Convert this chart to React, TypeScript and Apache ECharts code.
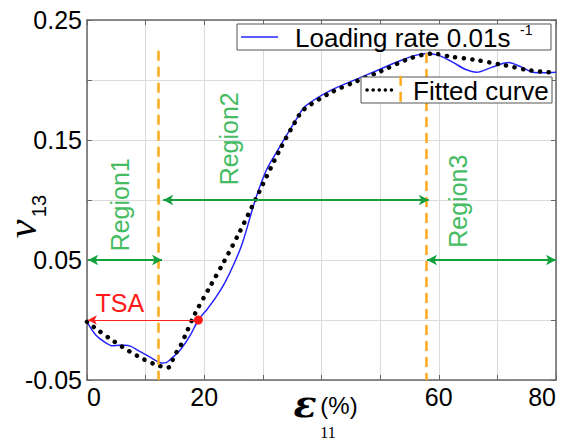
import React, { useEffect, useRef } from 'react';
import * as echarts from 'echarts';

// ---- data ----
const loadStrain = [0, 1.5, 3.2, 4.4, 5.5, 6.5, 7.5, 8.9, 10.6, 12.0, 12.7, 13.5, 14.2, 15.9, 17.6, 19.0, 20.5, 22.0, 23.5, 25.0, 26.5, 28.7, 30.6, 32.6, 35.8, 37.2, 41.4, 46.6, 50.0, 53.4, 56.0, 57.9, 60.0, 62.5, 64.5, 66.5, 69.0, 71.9, 74.0, 76.3, 78.0, 80.0];
const loadNu = [-0.0015, -0.0125, -0.019, -0.0215, -0.021, -0.021, -0.022, -0.026, -0.0305, -0.0345, -0.0358, -0.0355, -0.033, -0.025, -0.0128, 0.0, 0.009, 0.019, 0.031, 0.046, 0.064, 0.1, 0.125, 0.142, 0.168, 0.178, 0.191, 0.202, 0.209, 0.216, 0.2205, 0.222, 0.2205, 0.2145, 0.209, 0.2065, 0.2105, 0.2145, 0.211, 0.2062, 0.206, 0.2065];

const fitStrain = [0, 13.9, 14.4, 15.0, 15.9, 16.7, 18.4, 21.0, 23.3, 26.0, 28.7, 32.9, 35.5, 36.9, 41.4, 46.0, 50.0, 55.1, 59.0, 62.0, 65.9, 71.0, 75.6, 80.0];
const fitNu = [-0.0015, -0.0395, -0.0355, -0.029, -0.022, -0.0135, 0.005, 0.028, 0.048, 0.073, 0.1, 0.142, 0.165, 0.175, 0.189, 0.199, 0.207, 0.218, 0.222, 0.2195, 0.217, 0.2125, 0.208, 0.206];

const xTickLabels = ['0', '20', '60', '80'];
const yTickLabels = ['-0.05', '0.05', '0.15', '0.25'];

const seriesNames = ['Loading rate 0.01s-1', 'Fitted curve'];

const regionNames = ['Region1', 'Region2', 'Region3'];
const regionArrowFrom = [0.2, 13.0, 58.0];
const regionArrowTo = [12.8, 58.3, 80.0];
const regionArrowNu = [0.05, 0.1, 0.05];
const regionLabelStrain = [5.6, 24.2, 63.3];
const regionLabelNu = [0.096, 0.151, 0.099];

const dividerStrain = [12.1, 57.9];
const dividerTop = [0.2243, 0.2225];
const extraDividerStrain = 53.5;
const extraDividerNu = [0.2035, 0.1775];

const tsaStrain = 19.0;
const tsaNu = 0.0;
const tsaLabel = 'TSA';
const tsaLabelPos = [5.6, 0.0142];

const FONT = 'Liberation Sans, Arial, sans-serif';
const GREEN_ARROW = '#14a03c';
const GREEN_TEXT = '#45bb62';
const ORANGE = '#ffaa1a';

export default function App() {
  const ref = useRef<HTMLDivElement>(null);

  useEffect(() => {
    if (!ref.current) return;
    const chart = echarts.init(ref.current, undefined, { renderer: 'svg' });

    const axisLineStyle = { color: '#666', width: 1.5 };
    const arrowLines = regionNames.map((_, i) => [
      {
        coord: [regionArrowFrom[i], regionArrowNu[i]],
        symbol: 'arrow',
        symbolSize: [8, 10],
        lineStyle: { color: GREEN_ARROW, width: 2, type: 'solid' },
      },
      { coord: [regionArrowTo[i], regionArrowNu[i]], symbol: 'arrow', symbolSize: [8, 10] },
    ]);
    const dividerLines = dividerStrain.map((x, i) => [
      {
        coord: [x, dividerTop[i]],
        symbol: 'none',
        lineStyle: { color: ORANGE, width: 2.5, type: [10, 6] },
      },
      { coord: [x, -0.05], symbol: 'none' },
    ]);
    const tsaLine = [
      {
        coord: [tsaStrain - 0.4, tsaNu],
        symbol: 'none',
        lineStyle: { color: '#ff2020', width: 1, type: 'solid' },
      },
      { coord: [0.15, tsaNu], symbol: 'arrow', symbolSize: [7, 9] },
    ];

    const option: any = {
      animation: false,
      backgroundColor: '#fff',
      grid: { left: 87, right: 6, top: 20, bottom: 63, containLabel: false },
      xAxis: [
        {
          type: 'value',
          min: 0,
          max: 80,
          interval: 10,
          position: 'bottom',
          axisLine: { show: true, onZero: false, lineStyle: axisLineStyle },
          axisTick: { show: true, inside: true, length: 5, lineStyle: { color: '#666' } },
          axisLabel: {
            formatter: (v: number) => (xTickLabels.includes(String(v)) ? String(v) : ''),
            fontSize: 25,
            color: '#000',
            fontFamily: FONT,
            margin: 4,
            alignMinLabel: 'left',
            alignMaxLabel: 'right',
          },
          splitLine: { show: true, lineStyle: { color: '#dcdcdc', width: 1 } },
        },
        {
          type: 'value',
          min: 0,
          max: 80,
          interval: 10,
          position: 'top',
          axisLine: { show: true, onZero: false, lineStyle: axisLineStyle },
          axisTick: { show: true, inside: true, length: 5, lineStyle: { color: '#666' } },
          axisLabel: { show: false },
          splitLine: { show: false },
        },
      ],
      yAxis: [
        {
          type: 'value',
          min: -0.05,
          max: 0.25,
          interval: 0.05,
          position: 'left',
          axisLine: { show: true, onZero: false, lineStyle: axisLineStyle },
          axisTick: { show: true, inside: true, length: 5, lineStyle: { color: '#666' } },
          axisLabel: {
            formatter: (v: number) => {
              const s = v.toFixed(2);
              return yTickLabels.includes(s) ? s : '';
            },
            fontSize: 25,
            color: '#000',
            fontFamily: FONT,
            margin: 5,
          },
          splitLine: { show: true, lineStyle: { color: '#dcdcdc', width: 1 } },
        },
        {
          type: 'value',
          min: -0.05,
          max: 0.25,
          interval: 0.05,
          position: 'right',
          axisLine: { show: true, onZero: false, lineStyle: axisLineStyle },
          axisTick: { show: true, inside: true, length: 5, lineStyle: { color: '#666' } },
          axisLabel: { show: false },
          splitLine: { show: false },
        },
      ],
      series: [
        {
          name: seriesNames[0],
          type: 'line',
          data: loadStrain.map((x, i) => [x, loadNu[i]]),
          symbol: 'none',
          showSymbol: false,
          smooth: 0.3,
          lineStyle: { color: '#2424ff', width: 1.5 },
          z: 3,
          markLine: {
            silent: true,
            symbol: ['none', 'none'],
            label: { show: false },
            data: [...dividerLines, ...arrowLines, tsaLine],
          },
          markPoint: {
            silent: true,
            symbol: 'circle',
            symbolSize: 9,
            itemStyle: { color: '#ff1a1a' },
            label: { show: false },
            data: [{ coord: [tsaStrain, tsaNu] }],
          },
        },
        {
          name: seriesNames[1],
          type: 'line',
          data: fitStrain.map((x, i) => [x, fitNu[i]]),
          symbol: 'none',
          showSymbol: false,
          smooth: 0.3,
          lineStyle: { color: '#000', width: 4.5, type: [0.1, 8.5], cap: 'round' },
          z: 4,
        },
      ],
    };
    chart.setOption(option);

    const px = (x: number, y: number) => chart.convertToPixel({ gridIndex: 0 }, [x, y]) as number[];

    const graphics: any[] = [];
    regionNames.forEach((name, i) => {
      const p = px(regionLabelStrain[i], regionLabelNu[i]);
      graphics.push({
        type: 'text',
        x: p[0],
        y: p[1],
        rotation: Math.PI / 2,
        z: 20,
        style: { text: name, fontSize: 25, fontFamily: FONT, fill: GREEN_TEXT, align: 'center', verticalAlign: 'middle' },
      });
    });
    const tp = px(tsaLabelPos[0], tsaLabelPos[1]);
    graphics.push({
      type: 'text',
      x: tp[0],
      y: tp[1],
      z: 20,
      style: { text: tsaLabel, fontSize: 25, fontFamily: FONT, fill: '#ff1a1a', align: 'center', verticalAlign: 'middle' },
    });

    // legend boxes
    graphics.push(
      { type: 'rect', z: 50, shape: { x: 237, y: 24, width: 314, height: 26 }, style: { fill: '#fff', stroke: '#555', lineWidth: 1 } },
      { type: 'line', z: 51, shape: { x1: 241, y1: 37, x2: 278, y2: 37 }, style: { stroke: '#2424ff', lineWidth: 1.5 } },
      { type: 'text', z: 51, x: 295, y: 38, style: { text: 'Loading rate 0.01s', fontSize: 26, fontFamily: FONT, fill: '#000', align: 'left', verticalAlign: 'middle' } },
      { type: 'text', z: 51, x: 520, y: 30, style: { text: '-1', fontSize: 14, fontFamily: FONT, fill: '#000', align: 'left', verticalAlign: 'middle' } },
      { type: 'rect', z: 50, shape: { x: 361, y: 77, width: 191, height: 26 }, style: { fill: '#fff', stroke: '#555', lineWidth: 1 } },
      { type: 'line', z: 51, shape: { x1: 367, y1: 90, x2: 396, y2: 90 }, style: { stroke: '#000', lineWidth: 3.5, lineDash: [0.1, 6], lineCap: 'round' } },
      { type: 'text', z: 51, x: 413, y: 91, style: { text: 'Fitted curve', fontSize: 26, fontFamily: FONT, fill: '#000', align: 'left', verticalAlign: 'middle' } },
    );
    const e1 = px(extraDividerStrain, extraDividerNu[0]);
    const e2 = px(extraDividerStrain, extraDividerNu[1]);
    graphics.push({ type: 'line', z: 60, shape: { x1: e1[0], y1: e1[1], x2: e2[0], y2: e2[1] }, style: { stroke: ORANGE, lineWidth: 2.5, lineDash: [10, 6] } });

    // axis titles
    graphics.push(
      { type: 'text', z: 20, x: 22, y: 229, rotation: Math.PI / 2, style: { text: 'ν', fontSize: 42, lineHeight: 26, fontStyle: 'italic', fontFamily: 'Liberation Serif, serif', fill: '#000', align: 'center', verticalAlign: 'middle' } },
      { type: 'text', z: 20, x: 39, y: 206, rotation: Math.PI / 2, style: { text: '13', fontSize: 20, fontFamily: FONT, fill: '#000', align: 'center', verticalAlign: 'middle' } },
      { type: 'text', z: 20, x: 305, y: 403, style: { text: 'ε', fontSize: 38, fontStyle: 'italic', fontWeight: 'bold', fontFamily: 'DejaVu Serif, serif', fill: '#000', align: 'center', verticalAlign: 'middle' } },
      { type: 'text', z: 20, x: 339, y: 405, style: { text: '(%)', fontSize: 24, fontFamily: FONT, fill: '#000', align: 'center', verticalAlign: 'middle' } },
      { type: 'text', z: 20, x: 328, y: 432, style: { text: '11', fontSize: 16, fontFamily: 'Liberation Serif, serif', fill: '#000', align: 'center', verticalAlign: 'middle' } },
    );

    chart.setOption({ graphic: graphics });

    return () => chart.dispose();
  }, []);

  return <div ref={ref} style={{ position: 'fixed', left: 0, top: 0, width: 562, height: 443, background: '#fff' }} />;
}
